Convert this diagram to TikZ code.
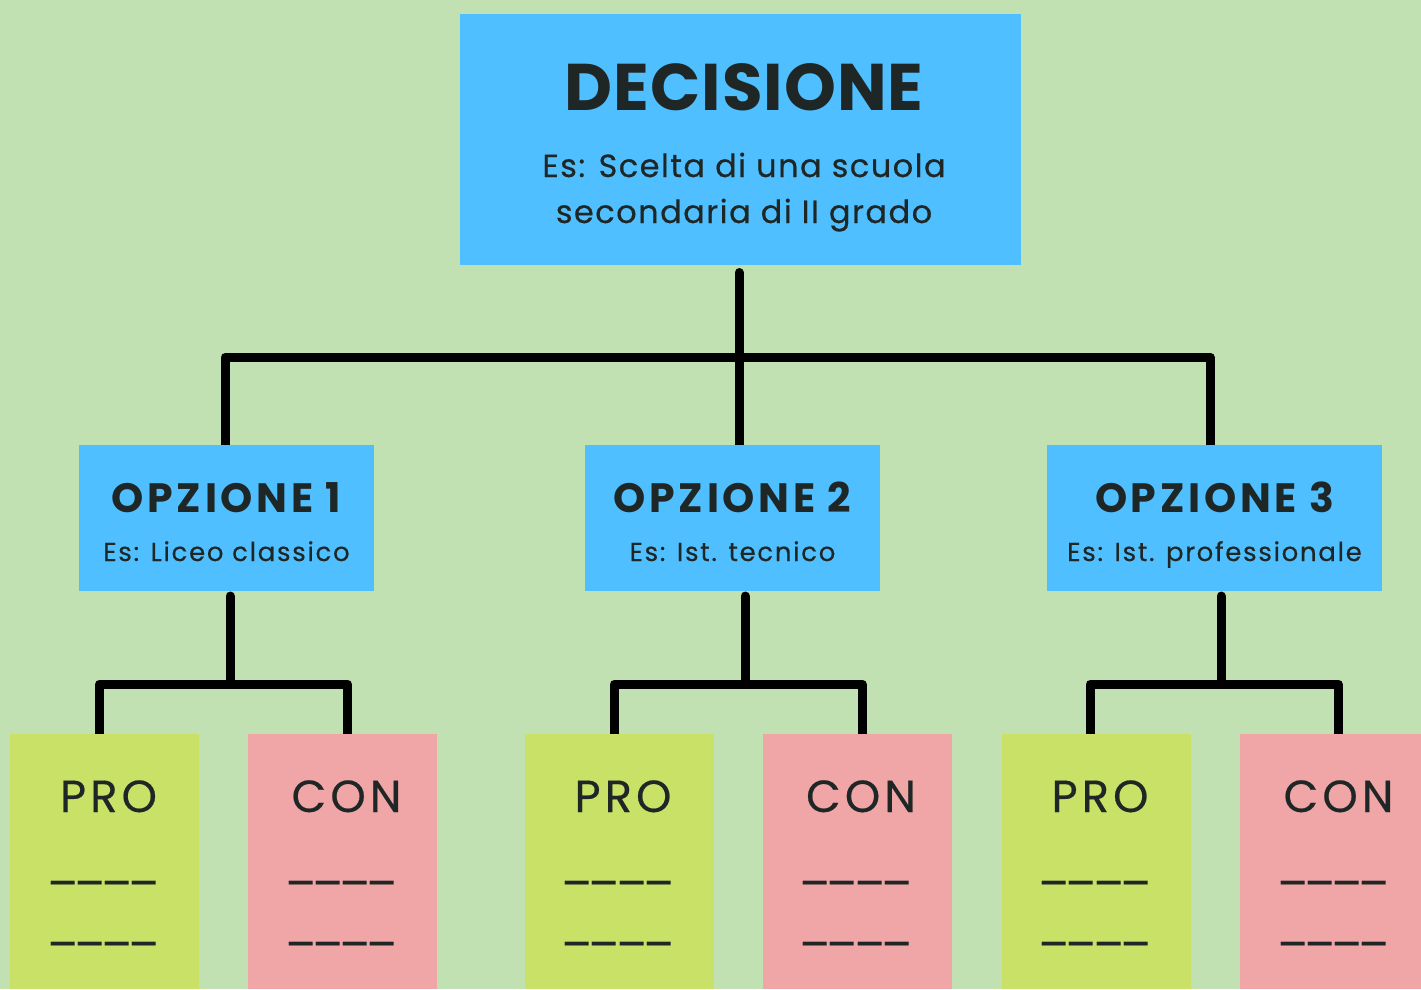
\documentclass[tikz,border=0pt]{standalone}
\usepackage{fontspec}
\setmainfont{Poppins}
\definecolor{bgc}{HTML}{C2E1B3}
\definecolor{bluec}{HTML}{4FBFFF}
\definecolor{proc}{HTML}{C9E166}
\definecolor{conc}{HTML}{F0A6A6}
\definecolor{txt}{HTML}{1F2626}
\pgfdeclarelayer{back}
\pgfdeclarelayer{lines}
\pgfsetlayers{back,lines,main}
\tikzset{
  box/.style={draw=none, inner sep=0pt, outer sep=0pt},
  bluebox/.style={box, fill=bluec},
  probox/.style={box, fill=proc, minimum width=189pt, minimum height=255pt},
  conbox/.style={box, fill=conc, minimum width=189pt, minimum height=255pt},
  optbox/.style={bluebox, minimum height=146pt},
  conn/.style={line width=9pt, line cap=round, line join=round, draw=black},
  lbl/.style={text=txt, anchor=base, inner sep=0pt},
  title/.style={lbl, font=\bfseries\fontsize{66}{70}\selectfont\addfontfeatures{LetterSpace=1.5}},
  sub/.style={lbl, font=\fontsize{32}{36}\selectfont\addfontfeatures{LetterSpace=4.6,FakeBold=0.4}},
  opttitle/.style={lbl, font=\bfseries\fontsize{41}{44}\selectfont\addfontfeatures{LetterSpace=9}},
  optsub/.style={lbl, font=\fontsize{26}{30}\selectfont\addfontfeatures{LetterSpace=6.5,FakeBold=0.4}},
  pc/.style={lbl, font=\fontsize{45}{48}\selectfont\addfontfeatures{LetterSpace=9,FakeBold=0.4}},
  blank/.style={lbl, font=\fontsize{45}{48}\selectfont\addfontfeatures{LetterSpace=-13}},
}
\begin{document}
\begin{tikzpicture}[x=1pt,y=-1pt]
\begin{pgfonlayer}{back}
\fill[bgc] (0,0) rectangle (1421,989);
\end{pgfonlayer}
\useasboundingbox (0,0) rectangle (1421,989);

% boxes
\node[bluebox, minimum width=561pt, minimum height=251pt] (dec) at (740.5,139.5) {};
\node[optbox, minimum width=295pt] (opt1) at (226.5,518) {};
\node[optbox, minimum width=295pt] (opt2) at (732.5,518) {};
\node[optbox, minimum width=335pt] (opt3) at (1214.5,518) {};

\node[probox] (pro1) at (104.5,861.5) {};
\node[conbox] (con1) at (342.5,861.5) {};
\node[probox] (pro2) at (619,861.5) {};
\node[conbox] (con2) at (857,861.5) {};
\node[probox] (pro3) at (1096,861.5) {};
\node[conbox] (con3) at (1334.5,861.5) {};

% texts
\node[title] (tdec) at (744,110) {DECISIONE};
\node[sub] (tdec1) at (744,177) {Es: Scelta di una scuola};
\node[sub] (tdec2) at (744,223) {secondaria di II grado};

\node[opttitle] (to1) at (226.5,512) {OPZIONE 1};
\node[optsub] (te1) at (226.5,561) {Es: Liceo classico};
\node[opttitle] (to2) at (732.5,512) {OPZIONE 2};
\node[optsub] (te2) at (732.5,561) {Es: Ist. tecnico};
\node[opttitle] (to3) at (1214.5,512) {OPZIONE 3};
\node[optsub] (te3) at (1214.5,561) {Es: Ist. professionale};

\foreach \b/\w in {pro1/PRO,con1/CON,pro2/PRO,con2/CON,pro3/PRO,con3/CON}{
  \node[pc] (\b-t) at ([xshift=4pt,yshift=-78pt]\b.north) {\w};
  \node[blank] (\b-a) at ([xshift=-1pt,yshift=-145pt]\b.north) {\_\_\_\_};
  \node[blank] (\b-b) at ([xshift=-1pt,yshift=-206pt]\b.north) {\_\_\_\_};
}

% connectors
\coordinate (j0) at (739,357);
\coordinate (c1) at (230,684);
\coordinate (c2) at (745,684);
\coordinate (c3) at (1221,684);
\begin{pgfonlayer}{lines}
\draw[conn] ([xshift=-1.5pt,yshift=-7.5pt]dec.south) -- ([xshift=6.5pt]opt2.north);
\draw[conn] ([xshift=-1.5pt]opt1.north) |- (j0) -| ([xshift=-4.5pt]opt3.north);

\draw[conn] ([xshift=3.5pt,yshift=-5pt]opt1.south) -- (c1);
\draw[conn] ([xshift=-5pt]pro1.north) |- (c1) -| ([xshift=5pt]con1.north);
\draw[conn] ([xshift=12.5pt,yshift=-5pt]opt2.south) -- (c2);
\draw[conn] ([xshift=-5pt]pro2.north) |- (c2) -| ([xshift=5pt]con2.north);
\draw[conn] ([xshift=6.5pt,yshift=-5pt]opt3.south) -- (c3);
\draw[conn] ([xshift=-6pt]pro3.north) |- (c3) -| ([xshift=3.5pt]con3.north);
\end{pgfonlayer}
\end{tikzpicture}
\end{document}
